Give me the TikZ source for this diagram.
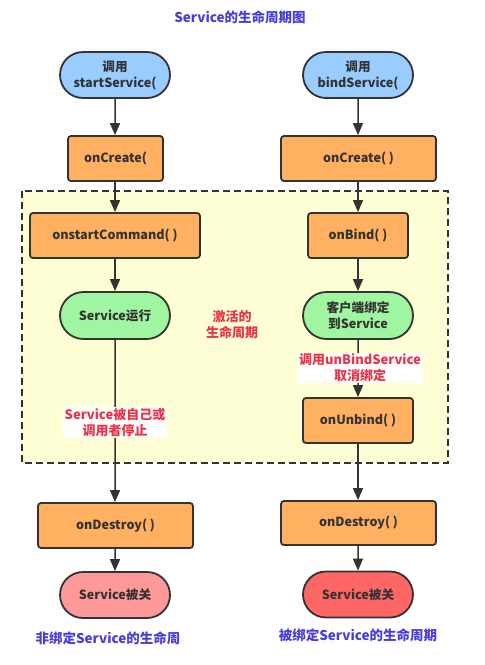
\documentclass[tikz,border=0pt]{standalone}
\usepackage{fontspec}
\setmainfont{Noto Sans CJK SC}
\usetikzlibrary{arrows.meta,shapes.misc}
\definecolor{lineC}{HTML}{333333}
\definecolor{blueF}{HTML}{99CCFF}
\definecolor{orangeF}{HTML}{FFB061}
\definecolor{greenF}{HTML}{A0F5A0}
\definecolor{pinkF}{HTML}{FF9999}
\definecolor{redF}{HTML}{FF6666}
\definecolor{yellowF}{HTML}{FFFFD6}
\definecolor{titleC}{HTML}{4A3DDA}
\definecolor{redT}{HTML}{EB3348}
\definecolor{textC}{HTML}{333333}
\tikzset{
  base/.style={draw=lineC, line width=1.8pt, text=textC, font=\bfseries\fontsize{12.6}{16}\selectfont, align=center, inner sep=0pt},
  term/.style={base, rounded rectangle, minimum width=110pt, minimum height=46pt},
  proc/.style={base, rectangle, rounded corners=3pt, fill=orangeF, minimum height=45pt},
  conn/.style={draw=lineC, line width=1.5pt, -{Triangle[width=10pt,length=12pt]}},
  redlab/.style={text=redT, font=\bfseries\fontsize{13}{16}\selectfont, align=center},
  bluelab/.style={text=titleC, font=\bfseries\fontsize{13.5}{16}\selectfont, align=center},
}
\begin{document}
\begin{tikzpicture}[x=1pt,y=-1pt]
\useasboundingbox (0,0) rectangle (485,665);
\fill[white] (0,0) rectangle (485,665);
\node[bluelab] (title) at (240,17) {Service的生命周期图};
\draw[lineC, line width=1.8pt, dash pattern=on 7pt off 4pt, fill=yellowF] (22,191) rectangle (448,463);

\node[term, fill=blueF] (s1) at (115,75) {调用\\startService(};
\node[term, fill=blueF] (s2) at (358,75) {调用\\bindService(};
\node[proc, minimum width=95pt] (c1) at (115.5,158.5) {onCreate(};
\node[proc, minimum width=155pt] (c2) at (358.5,158.5) {onCreate( )};
\node[proc, minimum width=170pt] (cmd) at (115,235.5) {onstartCommand( )};
\node[proc, minimum width=100pt] (bind) at (358,235.5) {onBind( )};
\node[term, fill=greenF, minimum height=47pt] (run) at (115,315.5) {Service运行};
\node[term, fill=greenF, minimum height=47pt] (cli) at (358,315.5) {客户端绑定\\到Service};
\node[proc, minimum width=110pt] (unb) at (358,420.5) {onUnbind( )};
\node[proc, minimum width=155pt] (d1) at (115.5,525.5) {onDestroy( )};
\node[proc, minimum width=155pt, minimum height=44pt] (d2) at (358.5,523) {onDestroy( )};
\node[term, fill=pinkF] (e1) at (115,595) {Service被关};
\node[term, fill=redF] (e2) at (358,594.5) {Service被关};

\draw[conn] (s1) -- (s1 |- c1.north);
\draw[conn] (s2) -- (s2 |- c2.north);
\draw[conn] (c1.south -| cmd) -- (cmd);
\draw[conn] (c2.south -| bind) -- (bind);
\draw[conn] (cmd) -- (run);
\draw[conn] (bind) -- (cli);
\draw[conn] (run) -- (run |- d1.north);
\draw[conn] (cli) -- (unb);
\draw[conn] (unb) -- (unb |- d2.north);
\draw[conn] (d1.south -| e1) -- (e1);
\draw[conn] (d2.south -| e2) -- (e2);

\node[redlab] (act) at (232,325) {激活的\\生命周期};
\node[redlab, fill=white, inner xsep=2pt, inner ysep=1pt] (stop) at (115,422.5) {Service被自己或\\调用者停止};
\node[redlab, fill=white, inner xsep=2pt, inner ysep=1pt] (unl) at (360,368) {调用unBindService\\取消绑定};
\node[bluelab] (b1) at (108,638) {非绑定Service的生命周};
\node[bluelab] (b2) at (358,635) {被绑定Service的生命周期};
\end{tikzpicture}
\end{document}
